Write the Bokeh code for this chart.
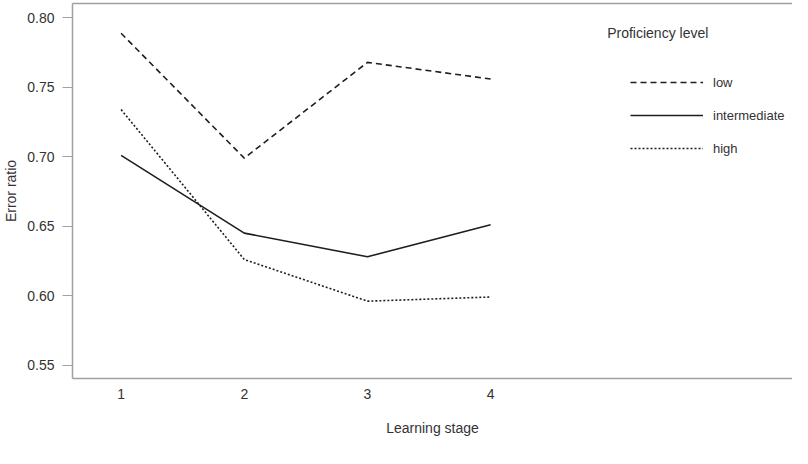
from bokeh.plotting import figure
from bokeh.models import (Range1d, LinearAxis, FixedTicker, Legend, LegendItem, Label,
                          CustomJSTickFormatter)
from bokeh.embed import file_html
from bokeh.resources import INLINE

stages = [1, 2, 3, 4]
low = [0.789, 0.699, 0.768, 0.756]
intermediate = [0.701, 0.645, 0.628, 0.651]
high = [0.734, 0.626, 0.596, 0.599]
y_ticks = [0.55, 0.60, 0.65, 0.70, 0.75, 0.80]
x_ticks = [1, 2, 3, 4]
series_names = ["low", "intermediate", "high"]
legend_title = "Proficiency level"

FONT = "Liberation Sans"
TXT = "#333333"
BORDER = "#a0a0a0"
LINE = "#1e1e1e"

p = figure(width=792, height=448, output_backend="svg", toolbar_location=None,
           x_range=Range1d(0.6055, 6.4505), y_range=Range1d(0.5403, 0.8104),
           min_border_left=72, min_border_right=0, min_border_top=3, min_border_bottom=70)
p.outline_line_color = None
p.background_fill_color = "white"
p.border_fill_color = "white"
p.xgrid.visible = False
p.ygrid.visible = False

# x axis
xa = p.xaxis[0]
xa.ticker = FixedTicker(ticks=x_ticks)
xa.major_tick_out = 0
xa.major_tick_in = 0
xa.minor_tick_out = 0
xa.minor_tick_in = 0
xa.axis_line_color = BORDER
xa.axis_line_width = 1.5
xa.major_label_text_font = FONT
xa.major_label_text_font_size = "14px"
xa.major_label_text_color = TXT
xa.major_label_standoff = 10
xa.axis_label = "Learning stage"
xa.axis_label_text_font = FONT
xa.axis_label_text_font_size = "14px"
xa.axis_label_text_font_style = "normal"
xa.axis_label_text_color = TXT
xa.axis_label_standoff = 18

# y axis
ya = p.yaxis[0]
ya.ticker = FixedTicker(ticks=y_ticks)
ya.major_tick_out = 10
ya.major_tick_in = 0
ya.minor_tick_out = 0
ya.minor_tick_in = 0
ya.major_tick_line_color = BORDER
ya.axis_line_color = BORDER
ya.axis_line_width = 1.5
ya.major_label_text_font = FONT
ya.major_label_text_font_size = "14px"
ya.major_label_text_color = TXT
ya.major_label_standoff = 8
ya.formatter = CustomJSTickFormatter(code="return tick.toFixed(2);")
ya.axis_label = "Error ratio"
ya.axis_label_text_font = FONT
ya.axis_label_text_font_size = "14px"
ya.axis_label_text_font_style = "normal"
ya.axis_label_text_color = TXT
ya.axis_label_standoff = 5

# top border line
top = LinearAxis(ticker=FixedTicker(ticks=[]), major_tick_out=0, major_tick_in=0,
                 minor_tick_out=0, minor_tick_in=0, major_label_text_font_size="0px",
                 axis_line_color=BORDER, axis_line_width=1.5)
p.add_layout(top, "above")

r_low = p.line(stages, low, line_color=LINE, line_width=1.6, line_dash="6 4")
r_int = p.line(stages, intermediate, line_color=LINE, line_width=1.6)
r_high = p.line(stages, high, line_color=LINE, line_width=1.6, line_dash="2 2")

legend = Legend(items=[LegendItem(label=series_names[0], renderers=[r_low]),
                       LegendItem(label=series_names[1], renderers=[r_int]),
                       LegendItem(label=series_names[2], renderers=[r_high])],
                location=(558, 220), orientation="vertical",
                glyph_width=73, glyph_height=20, label_height=20, label_standoff=10,
                spacing=13, padding=0, margin=0,
                border_line_color=None, background_fill_alpha=0,
                label_text_font=FONT, label_text_font_size="13px", label_text_color=TXT)
p.add_layout(legend)

p.add_layout(Label(x=4.946, y=0.7889, text=legend_title, text_font=FONT,
                   text_font_size="14px", text_color=TXT, text_baseline="middle",
                   text_align="left"))

open("out.html", "w").write(file_html(p, INLINE))
